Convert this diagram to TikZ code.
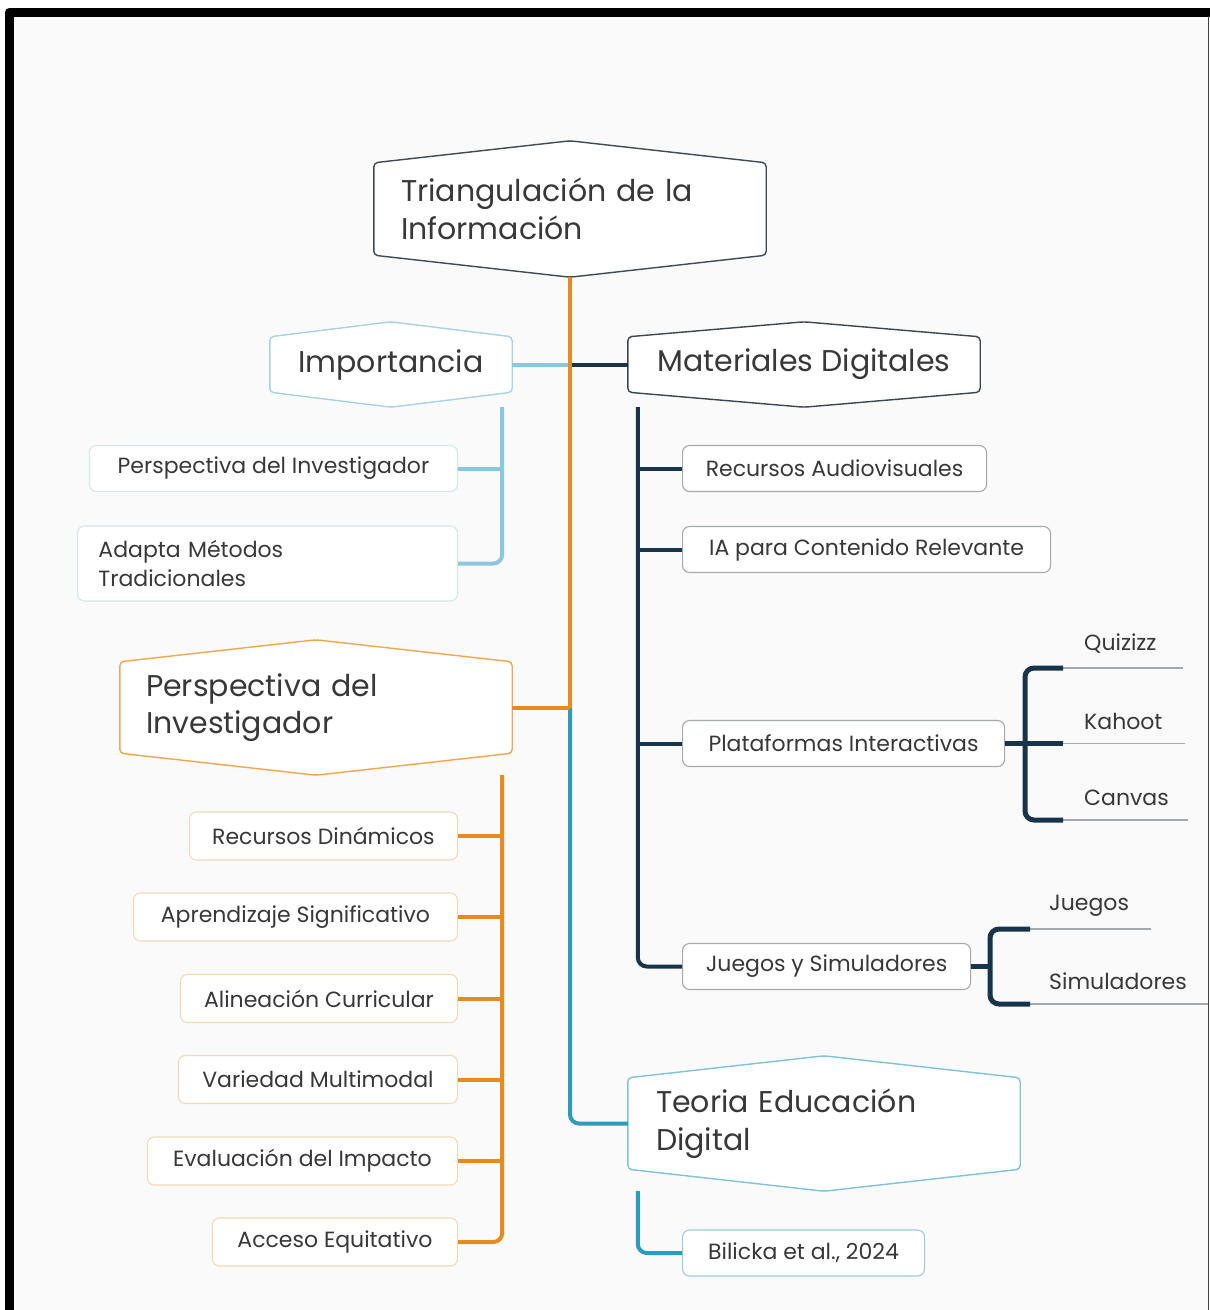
\documentclass[tikz,border=0pt]{standalone}
\usepackage{fontspec}
\setmainfont{Poppins}
\usetikzlibrary{calc}
\pgfdeclarelayer{bgzero}
\pgfdeclarelayer{bgone}
\pgfsetlayers{bgzero,bgone,main}
\definecolor{orng}{HTML}{E98A1C}
\definecolor{ltblue}{HTML}{8CC7DF}
\definecolor{navyc}{HTML}{17344B}
\definecolor{cteal}{HTML}{2C9BBC}
\definecolor{rootc}{HTML}{3E4A56}
\definecolor{impc}{HTML}{A8D2E6}
\definecolor{matc}{HTML}{3B4752}
\definecolor{perc}{HTML}{F3A64C}
\definecolor{teoc}{HTML}{7EC3D6}
\definecolor{impb}{HTML}{D5E6EC}
\definecolor{orb}{HTML}{F5D8B6}
\definecolor{navb}{HTML}{A5AAAF}
\definecolor{tealb}{HTML}{9BCDE0}
\definecolor{txtc}{HTML}{383838}
\definecolor{leafc}{HTML}{A3A9AD}
\definecolor{bgc}{HTML}{FAFAFA}
\newcommand{\mybig}{\fontsize{30}{37.5}\selectfont}
\newcommand{\mysmall}{\fontsize{22}{29}\selectfont}
\newcommand{\hexdraw}[3]{%
  \begin{pgfonlayer}{bgone}
  \draw[#3, fill=white, line width=1.4pt, rounded corners=4pt]
    ($(#1.north west)+(0,#2)$) -- (#1.north) -- ($(#1.north east)+(0,#2)$) --
    ($(#1.south east)+(0,-#2)$) -- (#1.south) -- ($(#1.south west)+(0,-#2)$) -- cycle;
  \end{pgfonlayer}}
\tikzset{
  hexn/.style={inner sep=0pt, text=txtc, font=\mybig},
  sbox/.style={draw=#1, fill=white, rounded corners=7pt, line width=1.1pt,
    minimum height=46pt, inner xsep=20pt, inner ysep=0pt, text=txtc, font=\mysmall},
  conn/.style={line width=4pt, rounded corners=9pt, draw=#1},
  brk/.style={line width=5pt, rounded corners=9pt, draw=navyc},
  leafline/.style={line width=1.5pt, draw=leafc},
  leaftxt/.style={anchor=west, text=txtc, font=\mysmall, inner sep=0pt},
}
\begin{document}
\begin{tikzpicture}[x=1pt,y=-1pt]
\useasboundingbox (0,0) rectangle (1210,1310);
\begin{pgfonlayer}{bgzero}
\fill[white] (0,0) rectangle (1210,1310);
\fill[bgc] (14,16) rectangle (1208,1310);
\draw[black, line width=9pt, line join=round] (9,1320) -- (9,12) -- (1220,12);
\draw[black!75, line width=1.5pt] (1208.5,16) -- (1208.5,1320);
\end{pgfonlayer}

% hexagon nodes
\node[hexn, minimum width=392pt, minimum height=136pt, text width=338pt, align=left] (root) at (570,209) {Triangulación de la\\Información};
\node[hexn, minimum width=242pt, minimum height=85pt] (imp) at (391,364.5) {Importancia};
\node[hexn, minimum width=352pt, minimum height=85pt] (mat) at (804,364.5) {Materiales Digitales};
\node[hexn, minimum width=392pt, minimum height=135pt, text width=340pt, align=left] (per) at (316,707.5) {Perspectiva del\\Investigador};
\node[hexn, minimum width=392pt, minimum height=135pt, text width=336pt, align=left] (teo) at (824,1123.5) {Teoria Educación\\Digital};
\hexdraw{root}{22}{rootc}
\hexdraw{imp}{15}{impc}
\hexdraw{mat}{15}{matc}
\hexdraw{per}{22}{perc}
\hexdraw{teo}{22}{teoc}

% small boxes
\node[sbox=impb, anchor=east, minimum width=368pt] (pdi) at (458,468.5) {Perspectiva del Investigador};
\node[sbox=impb, anchor=east, minimum width=380pt, minimum height=75pt, text width=338pt, align=left, inner xsep=21pt] (amt) at (458,563.5) {Adapta Métodos\\Tradicionales};
\node[sbox=orb, anchor=east, minimum width=268pt, minimum height=48pt] (rd) at (458,836) {Recursos Dinámicos};
\node[sbox=orb, anchor=east, minimum width=324pt, minimum height=48pt] (as) at (458,917) {Aprendizaje Significativo};
\node[sbox=orb, anchor=east, minimum width=277pt, minimum height=48pt] (ac) at (458,998.5) {Alineación Curricular};
\node[sbox=orb, anchor=east, minimum width=279pt, minimum height=48pt] (vm) at (458,1079.5) {Variedad Multimodal};
\node[sbox=orb, anchor=east, minimum width=310pt, minimum height=48pt] (ei) at (458,1161) {Evaluación del Impacto};
\node[sbox=orb, anchor=east, minimum width=245pt, minimum height=48pt] (ae) at (458,1242) {Acceso Equitativo};
\node[sbox=navb, anchor=west, minimum width=304pt] (ra) at (682,468.5) {Recursos Audiovisuales};
\node[sbox=navb, anchor=west, minimum width=368pt] (ia) at (682,549.5) {IA para Contenido Relevante};
\node[sbox=navb, anchor=west, minimum width=322pt] (pi) at (682,743.5) {Plataformas Interactivas};
\node[sbox=navb, anchor=west, minimum width=288pt] (js) at (682,966.5) {Juegos y Simuladores};
\node[sbox=tealb, anchor=west, minimum width=242pt] (bil) at (682,1253) {Bilicka et al., 2024};

% leaf labels
\node[leaftxt] (qz) at (1084,644) {Quizizz};
\node[leaftxt] (kh) at (1084,721) {Kahoot};
\node[leaftxt] (cv) at (1084,798) {Canvas};
\node[leaftxt] (jg) at (1049,906) {Juegos};
\node[leaftxt] (sm) at (1049,981) {Simuladores};

% trunk
\coordinate (j1) at (570,364.5);
\coordinate (j2) at (570,707.5);
\draw[conn=ltblue] (imp.east) -- (j1);
\draw[conn=navyc] (j1) -- (mat.west);
\draw[conn=cteal] (j2) |- (teo.west);
\draw[conn=orng] (per.east) -- (j2);
\draw[conn=orng] (root.south) -- (j2);

% Importancia children
\coordinate (is) at ($(imp.south east)+(-10,0)$);
\draw[conn=ltblue] (is) |- (amt.east);
\draw[conn=ltblue] (is |- pdi.east) -- (pdi.east);

% Perspectiva children
\coordinate (ps) at ($(per.south east)+(-10,0)$);
\draw[conn=orng] (ps) |- (ae.east);
\foreach \n in {rd,as,ac,vm,ei} \draw[conn=orng] (ps |- \n.east) -- (\n.east);

% Materiales children
\coordinate (ms) at ($(mat.south west)+(10,0)$);
\draw[conn=navyc] (ms) |- (js.west);
\foreach \n in {ra,ia,pi} \draw[conn=navyc] (ms |- \n.west) -- (\n.west);

% Teoria child
\coordinate (ts) at ($(teo.south west)+(10,0)$);
\draw[conn=cteal] (ts) |- (bil.west);

% Plataformas bracket
\coordinate (pb) at (1025,743.5);
\coordinate (qa) at (1063,668); \coordinate (qb) at (1183,668);
\coordinate (ka) at (1063,743.5); \coordinate (kb) at (1185,743.5);
\coordinate (ca) at (1063,820); \coordinate (cb) at (1188,820);
\draw[leafline] (qa) -- (qb);
\draw[leafline] (ka) -- (kb);
\draw[leafline] (ca) -- (cb);
\draw[brk] (qa) -| (pb) |- (ca);
\draw[brk, rounded corners=0pt] (pi.east) -- (ka);

% Juegos bracket
\coordinate (jb) at (990,966.5);
\coordinate (ga) at (1030,929); \coordinate (gb) at (1151,929);
\coordinate (sa) at (1030,1004); \coordinate (sb) at (1208,1004);
\draw[leafline] (ga) -- (gb);
\draw[leafline] (sa) -- (sb);
\draw[brk] (ga) -| (jb) |- (sa);
\draw[brk, rounded corners=0pt] (js.east) -- (jb);
\end{tikzpicture}
\end{document}
